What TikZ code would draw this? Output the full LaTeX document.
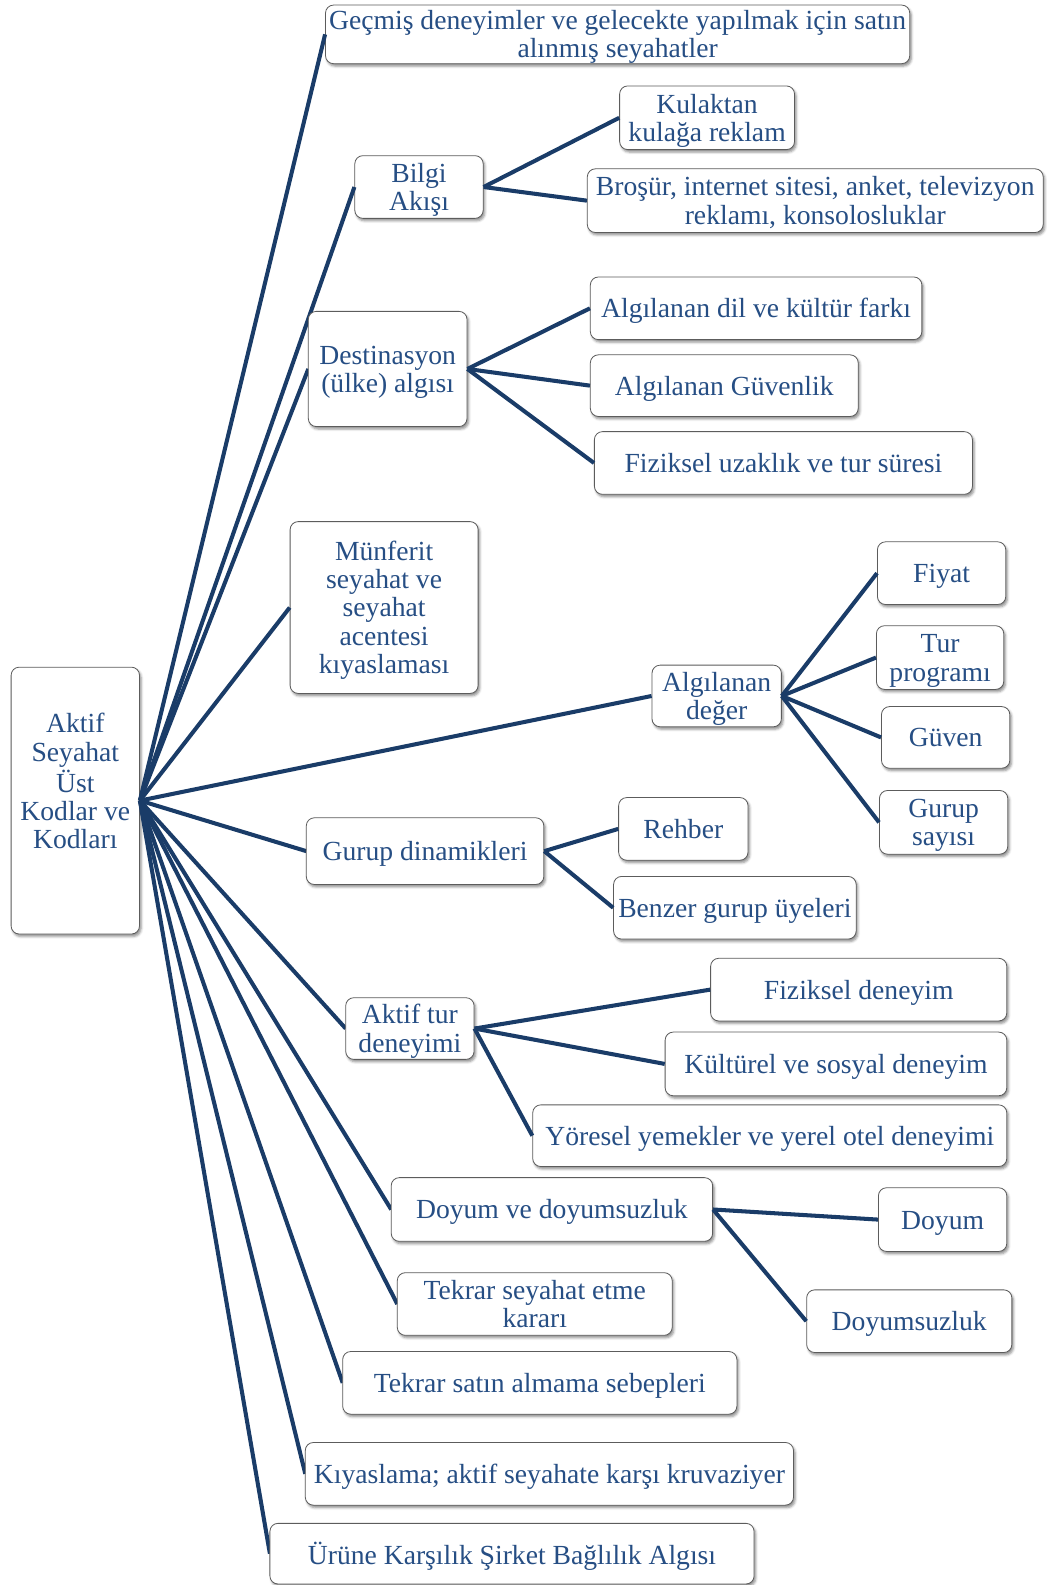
\documentclass[tikz,border=0pt]{standalone}
\usepackage{fontspec}
\setmainfont{Liberation Serif}
\usetikzlibrary{shadows.blur}
\definecolor{linkblue}{HTML}{1A3C68}
\definecolor{textblue}{HTML}{264E84}
\definecolor{boxrule}{HTML}{5C5C5C}
% centred, strut-spaced text block of zero size, lowered a little for optical centring
\newcommand\bxt[1]{\raisebox{-8pt}[0pt][0pt]{\begin{tabular}{@{}c@{}}#1\end{tabular}}}
\tikzset{
  box/.style={draw=boxrule, line width=0.6pt, fill=white, rounded corners=6pt,
    inner sep=0pt, text=textblue,
    font=\fontsize{20.5}{21}\selectfont,
    blur shadow={shadow xshift=1.2pt, shadow yshift=-1.8pt, shadow blur radius=1.8pt, shadow opacity=45}},
  sz/.style 2 args={minimum width={#1*0.75pt}, minimum height={#2*0.75pt}},
  txt/.style={inner sep=0pt, text=textblue, font=\fontsize{20.5}{21}\selectfont},
  link/.style={draw=linkblue, line width=3pt}
}
\begin{document}
\begin{tikzpicture}[x=0.75pt,y=-0.75pt]
\useasboundingbox (0,0) rectangle (1035,1568);

% root and the boxes whose anchors the links use
\node[box,sz={127}{264}] (root) at (74.5,792) {};
\node[txt] (rootlbl) at (74.5,773) {\bxt{Aktif\\Seyahat\\Üst\\Kodlar ve\\Kodları}};

\node[box,sz={578}{58}] (gec) at (611,34) {\bxt{Geçmiş deneyimler ve gelecekte yapılmak için satın\\alınmış seyahatler}};
\node[box,sz={127}{62}] (bilgi) at (414.5,185) {\bxt{Bilgi\\Akışı}};
\node[box,sz={173}{63}] (kulak) at (699.5,116.5) {\bxt{Kulaktan\\kulağa reklam}};
\node[box,sz={451}{63}] (brosur) at (806.5,198.5) {\bxt{Broşür, internet sitesi, anket, televizyon\\reklamı, konsolosluklar}};
\node[box,sz={328}{62}] (dil) at (748,305) {\bxt{Algılanan dil ve kültür farkı}};
\node[box,sz={265}{61}] (guvenlik) at (716.5,381.5) {\bxt{Algılanan Güvenlik}};
\node[box,sz={374}{62}] (uzak) at (775,458) {\bxt{Fiziksel uzaklık ve tur süresi}};
\node[box,sz={186}{170}] (munf) at (380,601) {\bxt{Münferit\\seyahat ve\\seyahat\\acentesi\\kıyaslaması}};
\node[box,sz={128}{61}] (deger) at (709,688.5) {\bxt{Algılanan\\değer}};
\node[box,sz={127}{62}] (fiyat) at (931.5,567) {\bxt{Fiyat}};
\node[box,sz={126}{63}] (turprog) at (930,650.5) {\bxt{Tur\\programı}};
\node[box,sz={127}{61}] (guven) at (935.5,729.5) {\bxt{Güven}};
\node[box,sz={127}{63}] (gsay) at (933.5,813.5) {\bxt{Gurup\\sayısı}};
\node[box,sz={128}{62}] (rehber) at (676,820) {\bxt{Rehber}};
\node[box,sz={240}{62}] (benzer) at (727,898) {\bxt{Benzer gurup üyeleri}};
\node[box,sz={293}{62}] (fizdeney) at (849.5,979) {\bxt{Fiziksel deneyim}};
\node[box,sz={338}{63}] (kultur) at (827,1052.5) {\bxt{Kültürel ve sosyal deneyim}};
\node[box,sz={469}{61}] (yoresel) at (761.5,1123.5) {\bxt{Yöresel yemekler ve yerel otel deneyimi}};
\node[box,sz={127}{63}] (doyum) at (932.5,1206.5) {\bxt{Doyum}};
\node[box,sz={203}{62}] (doyumsuz) at (899.5,1307) {\bxt{Doyumsuzluk}};

% main branches from the root; their end points are the left edges of the boxes drawn next
\coordinate (destw) at (305,365);
\coordinate (gdinw) at (303,842);
\coordinate (akturw) at (342,1017.5);
\coordinate (doyumvew) at (387,1196.5);
\coordinate (tsw) at (393,1290);
\coordinate (tsatw) at (339,1368);
\coordinate (kiyw) at (302,1458);
\coordinate (urunew) at (267,1537);
\draw[link] (root.east) -- (gec.west);
\draw[link] (root.east) -- (bilgi.west);
\draw[link] (root.east) -- (destw);
\draw[link] (root.east) -- (munf.west);
\draw[link] (root.east) -- (deger.west);
\draw[link] (root.east) -- (gdinw);
\draw[link] (root.east) -- (akturw);
\draw[link] (root.east) -- (doyumvew);
\draw[link] (root.east) -- (tsw);
\draw[link] (root.east) -- (tsatw);
\draw[link] (root.east) -- (kiyw);
\draw[link] (root.east) -- (urunew);

% boxes reached by the root branches
\node[box,sz={157}{114}] (dest) at (383.5,365) {\bxt{Destinasyon\\(ülke) algısı}};
\node[box,sz={235}{66}] (gdin) at (420.5,842) {\bxt{Gurup dinamikleri}};
\node[box,sz={127}{61}] (aktur) at (405.5,1017.5) {\bxt{Aktif tur\\deneyimi}};
\node[box,sz={318}{63}] (doyumve) at (546,1196.5) {\bxt{Doyum ve doyumsuzluk}};
\node[box,sz={272}{62}] (tekrarsey) at (529,1290) {\bxt{Tekrar seyahat etme\\kararı}};
\node[box,sz={390}{62}] (tekrarsat) at (534,1368) {\bxt{Tekrar satın almama sebepleri}};
\node[box,sz={483}{62}] (kiyas) at (543.5,1458) {\bxt{Kıyaslama; aktif seyahate karşı kruvaziyer}};
\node[box,sz={479}{60}] (urune) at (506.5,1537) {\bxt{Ürüne Karşılık Şirket Bağlılık Algısı}};

% second-level branches
\draw[link] (bilgi.east) -- (kulak.west);
\draw[link] (bilgi.east) -- (brosur.west);
\draw[link] (dest.east) -- (dil.west);
\draw[link] (dest.east) -- (guvenlik.west);
\draw[link] (dest.east) -- (uzak.west);
\draw[link] (deger.east) -- (fiyat.west);
\draw[link] (deger.east) -- (turprog.west);
\draw[link] (deger.east) -- (guven.west);
\draw[link] (deger.east) -- (gsay.west);
\draw[link] (gdin.east) -- (rehber.west);
\draw[link] (gdin.east) -- (benzer.west);
\draw[link] (aktur.east) -- (fizdeney.west);
\draw[link] (aktur.east) -- (kultur.west);
\draw[link] (aktur.east) -- (yoresel.west);
\draw[link] (doyumve.east) -- (doyum.west);
\draw[link] (doyumve.east) -- (doyumsuz.west);
\end{tikzpicture}
\end{document}
